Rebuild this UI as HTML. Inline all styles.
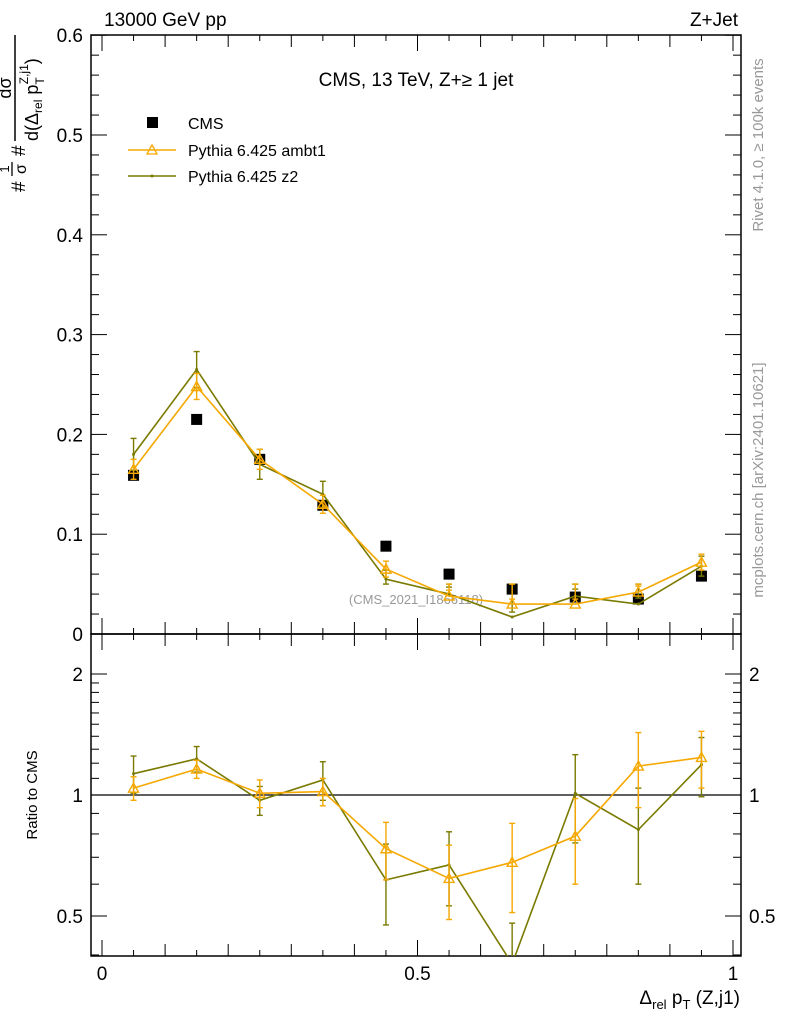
<!DOCTYPE html>
<html><head><meta charset="utf-8"><style>
body{margin:0;background:#fff;}
svg text{font-family:"Liberation Sans",sans-serif;}
</style></head><body>
<svg id="c" width="786" height="1024" viewBox="0 0 786 1024" xmlns="http://www.w3.org/2000/svg">
<text x="104" y="26" font-size="19">13000 GeV pp</text>
<text x="738" y="26" font-size="19" text-anchor="end">Z+Jet</text>
<text x="416" y="86" font-size="19" text-anchor="middle">CMS, 13 TeV, Z+≥ 1 jet</text>
<text x="416" y="604" font-size="13" fill="#999" text-anchor="middle">(CMS_2021_I1866118)</text>
<text transform="translate(763,145) rotate(-90)" font-size="15" fill="#999" text-anchor="middle">Rivet 4.1.0, ≥ 100k events</text>
<text transform="translate(763,480) rotate(-90)" font-size="15" fill="#999" text-anchor="middle">mcplots.cern.ch [arXiv:2401.10621]</text>
<g transform="rotate(-90)">
<text x="-192" y="25" font-size="19">#</text>
<text x="-169" y="9" font-size="13" text-anchor="middle">1</text>
<line x1="-176" y1="12" x2="-162" y2="12" stroke="#000" stroke-width="1.3"/>
<text x="-169" y="26" font-size="16" text-anchor="middle">σ</text>
<text x="-156" y="25" font-size="19">#</text>
<text x="-88" y="11" font-size="18" text-anchor="middle">dσ</text>
<line x1="-141" y1="15" x2="-35" y2="15" stroke="#000" stroke-width="1.5"/>
<text x="-141" y="38" font-size="18">d(Δ<tspan font-size="12" dy="4">rel</tspan><tspan dy="-4"> p</tspan><tspan font-size="12" dy="6">T</tspan><tspan font-size="12" dx="-7" dy="-16">Z,j1</tspan><tspan dy="10">)</tspan></text>
</g>
<text transform="translate(37,795) rotate(-90)" font-size="15" text-anchor="middle">Ratio to CMS</text>
<text x="740" y="1004" font-size="19" text-anchor="end">Δ<tspan font-size="13" dy="5">rel</tspan><tspan dy="-5"> p</tspan><tspan font-size="13" dy="5">T</tspan><tspan dy="-5"> (Z,j1)</tspan></text>
<g>
<rect x="147" y="117" width="11" height="11" fill="#000"/>
<text x="188" y="129" font-size="16">CMS</text>
<line x1="128" y1="150" x2="176" y2="150" stroke="#f5a800" stroke-width="1.5"/>
<path d="M152,145 L157,154 L147,154 Z" fill="none" stroke="#f5a800" stroke-width="1.3"/>
<text x="188" y="156" font-size="16">Pythia 6.425 ambt1</text>
<line x1="128" y1="176" x2="176" y2="176" stroke="#7a7a00" stroke-width="1.5"/>
<circle cx="152" cy="176" r="1.5" fill="#7a7a00"/>
<text x="188" y="182" font-size="16">Pythia 6.425 z2</text>
</g>
<g id="g"></g>
</svg>
<script>
const xCenters=[0.05,0.15,0.25,0.35,0.45,0.55,0.65,0.75,0.85,0.95];
const cmsVals=[0.159,0.215,0.175,0.129,0.088,0.060,0.045,0.037,0.035,0.058];
const ambt1Vals=[0.165,0.248,0.175,0.130,0.065,0.038,0.030,0.030,0.042,0.072];
const ambt1Errs=[0.010,0.013,0.010,0.009,0.008,0.006,0.005,0.005,0.006,0.008];
const z2Vals=[0.180,0.265,0.170,0.140,0.055,0.040,0.017,0.038,0.030,0.068];
const z2Errs=[0.016,0.018,0.015,0.013,0.009,0.007,0.005,0.007,0.006,0.010];
const ambt1Ratio=[1.04,1.16,1.01,1.02,0.735,0.62,0.68,0.79,1.18,1.24];
const ambt1RatioErr=[0.07,0.06,0.08,0.08,0.12,0.13,0.17,0.19,0.25,0.2];
const z2Ratio=[1.13,1.23,0.97,1.09,0.615,0.67,0.38,1.01,0.82,1.19];
const z2RatioErr=[0.12,0.09,0.08,0.12,0.14,0.14,0.1,0.25,0.22,0.2];
const yTicks=[0,0.1,0.2,0.3,0.4,0.5,0.6];
const rTicks=[0.5,1,2];
const xTicks=[0,0.5,1];
const NS="http://www.w3.org/2000/svg";
const g=document.getElementById('g');
const L=91,R=741,T=35,MB=634,RB=956;
const X=v=>102+v*631;
const Y=v=>MB-v*998;
const YR=v=>795-Math.log2(v)*121;
function el(t,a,p){const e=document.createElementNS(NS,t);for(const k in a)e.setAttribute(k,a[k]);(p||g).appendChild(e);return e;}
let f1=el('rect',{x:L,y:T,width:R-L,height:MB-T,fill:'none',stroke:'#000','stroke-width':1.5});


let f2=el('rect',{x:L,y:MB,width:R-L,height:RB-MB,fill:'none',stroke:'#000','stroke-width':1.5});


for(let i=0;i<=30;i++){const v=i*0.02,y=Y(v),maj=i%5===0,len=maj?16:8;
el('line',{x1:L,y1:y,x2:L+len,y2:y,stroke:'#000'});el('line',{x1:R,y1:y,x2:R-len,y2:y,stroke:'#000'});}
yTicks.forEach(v=>{const t=el('text',{x:L-8,y:Y(v)+7,'font-size':19,'text-anchor':'end'});t.textContent=v===0?'0':v.toFixed(1);

});
[0.4,0.5,0.6,0.7,0.8,0.9,1,1.1,1.2,1.3,1.4,1.5,1.6,1.7,1.8,1.9,2].forEach(v=>{const y=YR(v);if(y<MB||y>RB)return;const maj=rTicks.includes(v),len=maj?16:8;
el('line',{x1:L,y1:y,x2:L+len,y2:y,stroke:'#000'});el('line',{x1:R,y1:y,x2:R-len,y2:y,stroke:'#000'});});
rTicks.forEach(v=>{const lab=v===1?'1':(v===2?'2':'0.5');
const t=el('text',{x:L-8,y:YR(v)+7,'font-size':19,'text-anchor':'end'});t.textContent=lab;


const t2=el('text',{x:R+8,y:YR(v)+7,'font-size':19});t2.textContent=lab;

});
el('line',{x1:L,y1:YR(1),x2:R,y2:YR(1),stroke:'#000','stroke-width':1.2});
for(let i=0;i<=20;i++){const v=i*0.05,x=X(v),len=i%10===0?16:(i%2===0?12:6);
[MB,RB].forEach(b=>{el('line',{x1:x,y1:b,x2:x,y2:b-len,stroke:'#000'});});
el('line',{x1:x,y1:T,x2:x,y2:T+len,stroke:'#000'});el('line',{x1:x,y1:MB,x2:x,y2:MB+len,stroke:'#000'});}
xTicks.forEach(v=>{const t=el('text',{x:X(v),y:980,'font-size':19,'text-anchor':'middle'});t.textContent=String(v);

});
const defs=el('defs',{});
const cp=el('clipPath',{id:'cr'},defs);el('rect',{x:L,y:MB,width:R-L,height:RB-MB},cp);
const cm=el('clipPath',{id:'cm'},defs);el('rect',{x:L,y:T,width:R-L,height:MB-T},cm);
function series(vals,errs,fy,color,tri,clip,name){
const sg=el('g',{'clip-path':'url(#'+clip+')'});


el('polyline',{points:xCenters.map((x,i)=>X(x)+','+fy(vals[i])).join(' '),fill:'none',stroke:color,'stroke-width':1.6},sg);
xCenters.forEach((x,i)=>{const cx=X(x),y1=fy(vals[i]+errs[i]),y2=fy(Math.max(vals[i]-errs[i],0.05));
el('line',{x1:cx,y1:y1,x2:cx,y2:y2,stroke:color,'stroke-width':1.4},sg);
el('line',{x1:cx-3,y1:y1,x2:cx+3,y2:y1,stroke:color,'stroke-width':1.4},sg);
el('line',{x1:cx-3,y1:y2,x2:cx+3,y2:y2,stroke:color,'stroke-width':1.4},sg);
const cy=fy(vals[i]);
if(tri)el('path',{d:`M${cx},${cy-5} L${cx+5},${cy+4} L${cx-5},${cy+4} Z`,fill:'none',stroke:color,'stroke-width':1.4},sg);
else el('circle',{cx:cx,cy:cy,r:1.5,fill:color},sg);});}
xCenters.forEach((x,i)=>{const r=el('rect',{x:X(x)-5.5,y:Y(cmsVals[i])-5.5,width:11,height:11,fill:'#000'});

});
series(z2Vals,z2Errs,Y,'#7a7a00',false,'cm','z2-series');
series(ambt1Vals,ambt1Errs,Y,'#f5a800',true,'cm','ambt1-series');
series(z2Ratio,z2RatioErr,YR,'#7a7a00',false,'cr','z2-ratio');
series(ambt1Ratio,ambt1RatioErr,YR,'#f5a800',true,'cr','ambt1-ratio');
</script>
</body></html>
